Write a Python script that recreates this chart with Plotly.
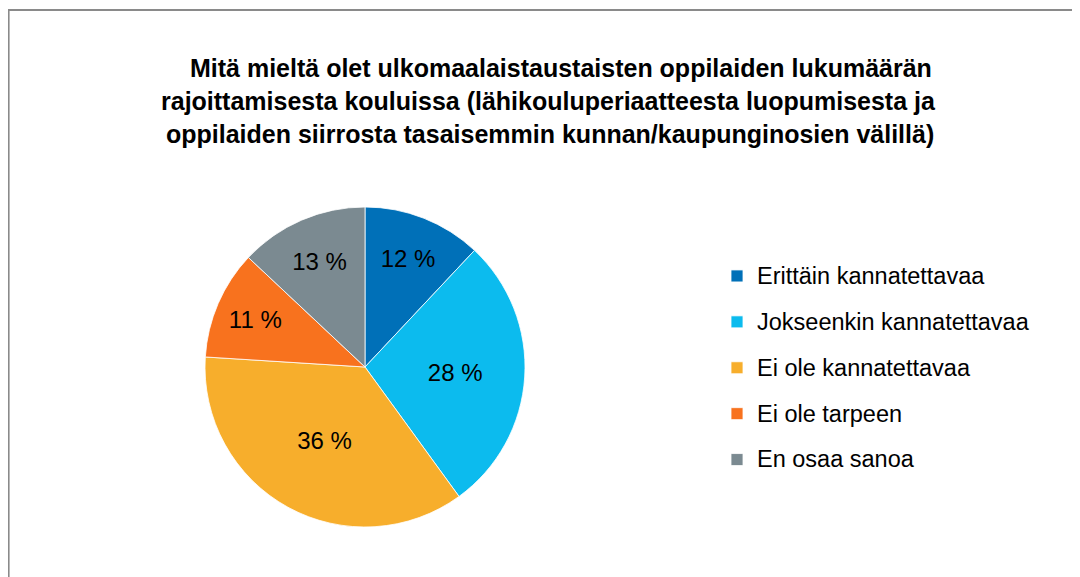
import plotly.graph_objects as go

# The page body has an 8px margin, so the figure is drawn 8px smaller and
# every pixel position below is given in page coordinates minus that offset.
OFF = 8
W, H = 1080 - OFF, 577 - OFF

labels = ["Erittäin kannatettavaa", "Jokseenkin kannatettavaa", "Ei ole kannatettavaa",
          "Ei ole tarpeen", "En osaa sanoa"]
values = [12, 28, 36, 11, 13]
colors = ["#0070B8", "#0CBBEE", "#F7AE2C", "#F8721E", "#7B8A91"]

title_lines = [
    "Mitä mieltä olet ulkomaalaistaustaisten oppilaiden lukumäärän",
    "rajoittamisesta kouluissa (lähikouluperiaatteesta luopumisesta ja",
    "oppilaiden siirrosta tasaisemmin kunnan/kaupunginosien välillä)",
]

FONT = "Liberation Sans, Arial, sans-serif"


def px(x):
    return (x - OFF) / W


def py(y):
    return 1 - (y - OFF) / H


legend_labels = ['<span style="font-size:23.5px;baseline-shift:5px">' + s + '</span>'
                 for s in labels]

fig = go.Figure()
fig.add_trace(go.Pie(
    labels=legend_labels,
    values=values,
    sort=False,
    direction="clockwise",
    rotation=0,
    marker=dict(colors=colors, line=dict(color="white", width=0.8)),
    texttemplate="%{value} %",
    textposition="inside",
    insidetextorientation="horizontal",
    textfont=dict(family=FONT, size=24, color="black"),
    hoverinfo="label+percent",
    domain=dict(x=[px(205), px(525)], y=[py(527), py(207)]),
))

title_pos = [(561, 68), (548.5, 101), (550, 134)]
for txt, (cx, cy) in zip(title_lines, title_pos):
    fig.add_annotation(
        text="<b>" + txt + "</b>", x=px(cx), y=py(cy), xref="paper", yref="paper",
        xanchor="center", yanchor="middle", showarrow=False,
        font=dict(family=FONT, size=25, color="black"),
    )

fig.add_shape(type="rect", xref="paper", yref="paper",
              x0=0.6 / W, x1=1.05, y0=-0.05, y1=py(10),
              line=dict(color="#8a8a8a", width=2), fillcolor="rgba(0,0,0,0)")

fig.update_layout(
    width=W, height=H,
    margin=dict(l=0, r=0, t=0, b=0),
    paper_bgcolor="white",
    plot_bgcolor="white",
    showlegend=True,
    legend=dict(
        x=px(717), y=py(248), xanchor="left", yanchor="top",
        font=dict(family=FONT, size=33, color="black"),
        bgcolor="rgba(0,0,0,0)",
    ),
)

fig.write_html("out.html")
